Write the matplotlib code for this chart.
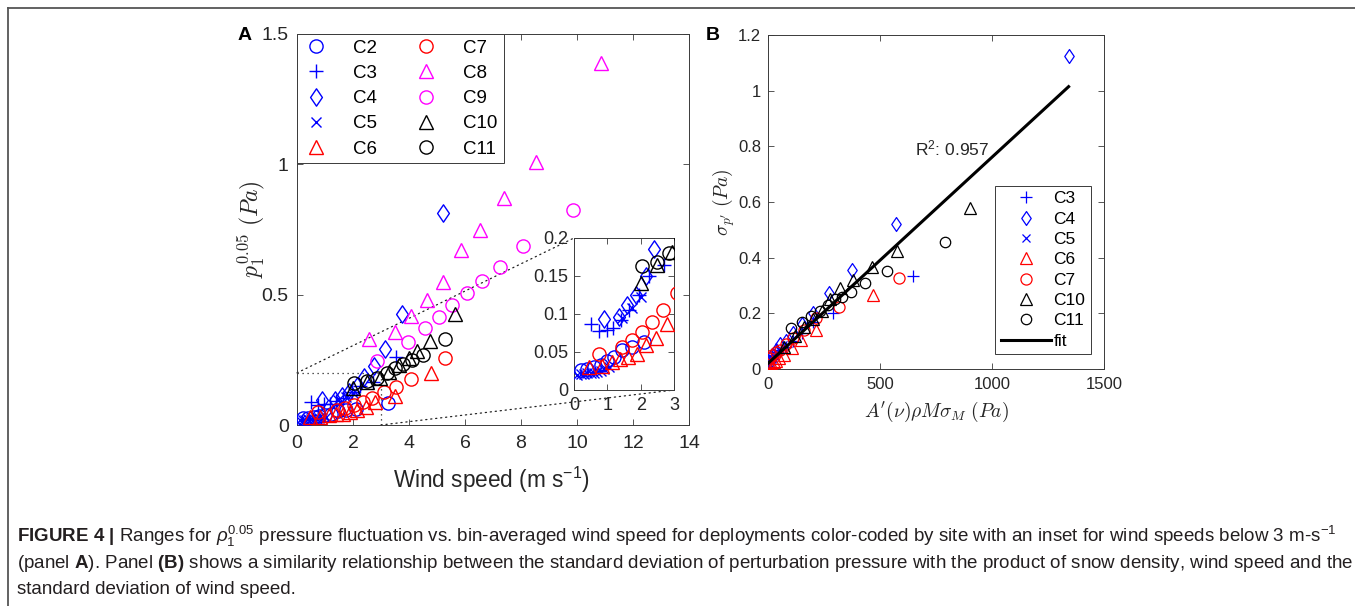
import numpy as np
import matplotlib
matplotlib.use('Agg')
import matplotlib.pyplot as plt
from matplotlib import font_manager
from matplotlib.patches import ConnectionPatch
from matplotlib.lines import Line2D
from matplotlib.path import Path
from matplotlib.ticker import FuncFormatter

# ---------------- Panel A data: wind speed (m/s) vs p1^0.05 (Pa) ----------------
c2_ws = [0.2, 0.4, 0.6, 0.8, 1.0, 1.2, 1.45, 1.75, 2.1, 3.25]
c2_p = [0.026, 0.027, 0.030, 0.033, 0.038, 0.044, 0.052, 0.056, 0.063, 0.084]
c3_ws = [0.5, 0.75, 0.98, 1.18, 1.4, 1.65, 1.95, 2.25, 2.7, 3.55]
c3_p = [0.087, 0.078, 0.079, 0.082, 0.092, 0.105, 0.125, 0.150, 0.165, 0.260]
c4_ws = [0.9, 1.35, 1.6, 1.85, 2.15, 2.4, 2.75, 3.13, 3.75, 5.23]
c4_p = [0.094, 0.096, 0.112, 0.125, 0.150, 0.185, 0.225, 0.290, 0.425, 0.813]
c5_ws = [0.1, 0.2, 0.3, 0.4, 0.5, 0.6, 0.7, 0.8, 0.9, 1.05, 1.45, 1.75, 2.0]
c5_p = [0.020, 0.021, 0.021, 0.022, 0.022, 0.023, 0.024, 0.025, 0.027, 0.030, 0.095, 0.108, 0.123]
c6_ws = [0.45, 0.83, 1.13, 1.38, 1.63, 1.88, 2.16, 2.47, 2.8, 3.5, 4.8]
c6_p = [0.030, 0.032, 0.037, 0.041, 0.043, 0.048, 0.059, 0.068, 0.087, 0.113, 0.198]
c7_ws = [0.74, 1.43, 1.73, 2.05, 2.35, 2.67, 3.1, 3.55, 4.06, 5.27]
c7_p = [0.048, 0.057, 0.066, 0.076, 0.090, 0.105, 0.127, 0.146, 0.176, 0.257]
c8_ws = [2.56, 3.49, 4.07, 4.65, 5.23, 5.86, 6.55, 7.39, 8.52, 10.87]
c8_p = [0.330, 0.356, 0.420, 0.480, 0.550, 0.670, 0.750, 0.870, 1.010, 1.390]
c9_ws = [2.85, 3.98, 4.56, 5.06, 5.55, 6.06, 6.61, 7.24, 8.07, 9.87]
c9_p = [0.245, 0.317, 0.374, 0.416, 0.461, 0.506, 0.554, 0.608, 0.687, 0.823]
c10_ws = [2.0, 2.5, 2.95, 3.3, 3.65, 4.0, 4.3, 4.75, 5.65]
c10_p = [0.141, 0.165, 0.181, 0.205, 0.232, 0.258, 0.283, 0.324, 0.425]
c11_ws = [2.05, 2.5, 2.85, 3.2, 3.5, 3.8, 4.1, 4.5, 5.27]
c11_p = [0.163, 0.168, 0.180, 0.200, 0.218, 0.235, 0.250, 0.270, 0.330]

# ---------------- Panel B data: A'(nu) rho M sigma_M (Pa) vs sigma_p' (Pa) ----------------
b3_x = [5, 12, 20, 30, 45, 60, 80, 110, 150, 200, 290, 647]
b3_y = [0.020, 0.030, 0.040, 0.050, 0.060, 0.070, 0.080, 0.100, 0.130, 0.170, 0.200, 0.334]
b4_x = [20, 35, 55, 80, 110, 150, 200, 272, 376, 570, 1342]
b4_y = [0.050, 0.070, 0.090, 0.100, 0.130, 0.160, 0.200, 0.274, 0.356, 0.520, 1.124]
b5_x = [2, 5, 8, 12, 16, 20, 25, 30, 40, 50]
b5_y = [0.015, 0.020, 0.025, 0.030, 0.035, 0.040, 0.045, 0.050, 0.060, 0.070]
b6_x = [8, 15, 25, 35, 50, 70, 109, 149, 213, 469]
b6_y = [0.015, 0.020, 0.025, 0.030, 0.040, 0.050, 0.074, 0.104, 0.140, 0.266]
b7_x = [10, 20, 35, 55, 80, 110, 160, 216, 317, 585]
b7_y = [0.040, 0.050, 0.060, 0.070, 0.090, 0.110, 0.140, 0.182, 0.222, 0.328]
b10_x = [70, 120, 160, 200, 240, 275, 320, 380, 464, 577, 900]
b10_y = [0.080, 0.120, 0.150, 0.180, 0.210, 0.250, 0.290, 0.320, 0.368, 0.425, 0.577]
b11_x = [104, 150, 190, 230, 270, 300, 330, 372, 435, 533, 789]
b11_y = [0.146, 0.170, 0.190, 0.210, 0.230, 0.250, 0.260, 0.278, 0.308, 0.353, 0.457]
fit_slope = 7.41e-4
fit_intercept = 0.02
r2_value = 0.957

# ---------------- text ----------------
caption_lines = [
    r"$\mathbf{FIGURE\ 4\ |}$ Ranges for $\rho_1^{0.05}$ pressure fluctuation vs. bin-averaged wind speed for deployments color-coded by site with an inset for wind speeds below 3 m-s$^{-1}$",
    r"(panel $\mathbf{A}$). Panel $\mathbf{(B)}$ shows a similarity relationship between the standard deviation of perturbation pressure with the product of snow density, wind speed and the",
    r"standard deviation of wind speed.",
]

# ---------------- fonts ----------------
avail = {f.name for f in font_manager.fontManager.ttflist}
sans = 'Liberation Sans' if 'Liberation Sans' in avail else 'DejaVu Sans'
narrow = 'Liberation Sans Narrow' if 'Liberation Sans Narrow' in avail else sans
plt.rcParams['font.family'] = [sans, 'DejaVu Sans']
plt.rcParams['mathtext.fontset'] = 'custom'
plt.rcParams['mathtext.rm'] = narrow
plt.rcParams['mathtext.it'] = narrow + ':italic'
plt.rcParams['mathtext.bf'] = narrow + ':bold'

TXT = '#262626'
SP = '#3a3a3a'

W, H = 1355, 606
fig = plt.figure(figsize=(W / 100, H / 100), dpi=100)

# MATLAB-like diamond (taller than wide)
DIAM = Path([(0, 1), (0.68, 0), (0, -1), (-0.68, 0), (0, 1)],
            [Path.MOVETO, Path.LINETO, Path.LINETO, Path.LINETO, Path.CLOSEPOLY])


def px_axes(x0, y0, x1, y1):
    return [x0 / W, 1 - y1 / H, (x1 - x0) / W, (y1 - y0) / H]


def style(ax, fs, xpad, ypad):
    for s in ax.spines.values():
        s.set_color(SP)
        s.set_linewidth(0.7)
    ax.tick_params(direction='in', top=True, right=True, length=4, width=0.6,
                   colors=SP, labelcolor=TXT, labelsize=fs)
    ax.tick_params(axis='x', pad=xpad)
    ax.tick_params(axis='y', pad=ypad)
    ax.xaxis.set_major_formatter(FuncFormatter(lambda v, p: '%g' % v))
    ax.yaxis.set_major_formatter(FuncFormatter(lambda v, p: '%g' % v))


seriesA = [
    ('C2', c2_ws, c2_p, 'o', 'blue', 9.5),
    ('C3', c3_ws, c3_p, '+', 'blue', 10),
    ('C4', c4_ws, c4_p, DIAM, 'blue', 12.5),
    ('C5', c5_ws, c5_p, 'x', 'blue', 7),
    ('C6', c6_ws, c6_p, '^', 'red', 9.5),
    ('C7', c7_ws, c7_p, 'o', 'red', 9.5),
    ('C8', c8_ws, c8_p, '^', 'magenta', 9.5),
    ('C9', c9_ws, c9_p, 'o', 'magenta', 9.5),
    ('C10', c10_ws, c10_p, '^', 'black', 9.5),
    ('C11', c11_ws, c11_p, 'o', 'black', 9.5),
]

axA = fig.add_axes(px_axes(297, 34, 689, 425))
handles = []
for name, xs, ys, mk, col, ms in seriesA:
    h, = axA.plot(xs, ys, linestyle='none', marker=mk, ms=ms, mfc='none',
                  mec=col, mew=1.0, label=name, zorder=3)
    handles.append(h)
axA.set_xlim(0, 14)
axA.set_ylim(0, 1.5)
axA.set_xticks(np.arange(0, 15, 2))
axA.set_yticks([0, 0.5, 1, 1.5])
style(axA, 14, 7, 6)
axA.set_xlabel(r'Wind speed (m s$^{\mathregular{-1}}$)', fontsize=16.3, color=TXT)
axA.xaxis.set_label_coords(0.497, -0.102)
axA.set_ylabel(r'$p_1^{0.05}\ (Pa)$', fontsize=17, color=TXT, math_fontfamily='cm')
axA.yaxis.set_label_coords(-0.076, 0.5)

legA = axA.legend(handles=handles, ncol=2, loc='upper left', bbox_to_anchor=(0, 1),
                  borderaxespad=0, frameon=True, fancybox=False, framealpha=1,
                  edgecolor=SP, fontsize=13.5, handlelength=1.4, handletextpad=1.3,
                  columnspacing=1.9, labelspacing=0.43, borderpad=0.3)
legA.get_frame().set_linewidth(0.7)
for t in legA.get_texts():
    t.set_color('black')

# inset
ins_xlim = (0, 3)
ins_ylim = (0, 0.2)
axI = fig.add_axes(px_axes(574, 238, 674, 390))
axI.set_zorder(5)
for name, xs, ys, mk, col, ms in seriesA:
    axI.plot(xs, ys, linestyle='none', marker=mk, ms=ms, mfc='none',
             mec=col, mew=1.0, zorder=3)
axI.set_xlim(*ins_xlim)
axI.set_ylim(*ins_ylim)
axI.set_xticks([0, 1, 2, 3])
axI.set_yticks([0, 0.05, 0.1, 0.15, 0.2])
style(axI, 13, 5, 4)

# zoom indicator (dotted)
dot = dict(color='#222222', lw=0.9, linestyle=(0, (1, 3)))
axA.plot([ins_xlim[0], ins_xlim[1]], [ins_ylim[1], ins_ylim[1]], zorder=2, **dot)
axA.plot([ins_xlim[1], ins_xlim[1]], [ins_ylim[0], ins_ylim[1]], zorder=2, **dot)
for (xa, ya), (xb, yb) in [((ins_xlim[0], ins_ylim[1]), (0, 1)), ((ins_xlim[1], ins_ylim[0]), (1, 0))]:
    cp = ConnectionPatch(xyA=(xa, ya), coordsA=axA.transData, xyB=(xb, yb),
                         coordsB=axI.transAxes, zorder=2, **dot)
    axA.add_artist(cp)

# ---------------- Panel B ----------------
seriesB = [
    ('C3', b3_x, b3_y, '+', 'blue', 8),
    ('C4', b4_x, b4_y, DIAM, 'blue', 10),
    ('C5', b5_x, b5_y, 'x', 'blue', 6),
    ('C6', b6_x, b6_y, '^', 'red', 8),
    ('C7', b7_x, b7_y, 'o', 'red', 8),
    ('C10', b10_x, b10_y, '^', 'black', 8),
    ('C11', b11_x, b11_y, 'o', 'black', 7.5),
]
axB = fig.add_axes(px_axes(768, 35, 1104, 369))
hB = []
for name, xs, ys, mk, col, ms in seriesB:
    h, = axB.plot(xs, ys, linestyle='none', marker=mk, ms=ms, mfc='none',
                  mec=col, mew=0.9, label=name, zorder=3)
    hB.append(h)
all_bx = np.concatenate([b3_x, b4_x, b5_x, b6_x, b7_x, b10_x, b11_x])
fx = np.linspace(0, all_bx.max(), 50)
hf, = axB.plot(fx, fit_slope * fx + fit_intercept, color='black', lw=2.2, label='fit', zorder=4)
hB.append(hf)
axB.set_xlim(0, 1500)
axB.set_ylim(0, 1.2)
axB.set_xticks([0, 500, 1000, 1500])
axB.set_yticks(np.round(np.arange(0, 1.21, 0.2), 1))
style(axB, 12, 6, 5)
axB.text(656, 0.794, 'R$^{\\mathregular{2}}$: %.3f' % r2_value, fontsize=12.5, color=TXT,
         ha='left', va='center')
axB.set_xlabel(r"$A'(\nu)\rho M\sigma_M\ (Pa)$", fontsize=14, color=TXT, math_fontfamily='cm')
axB.xaxis.set_label_coords(0.5, -0.093)
axB.set_ylabel(r"$\sigma_{p'}\ (Pa)$", fontsize=14, color=TXT, math_fontfamily='cm')
axB.yaxis.set_label_coords(-0.093, 0.5)
legB = axB.legend(handles=hB, loc='lower right', bbox_to_anchor=(0.96, 0.045),
                  borderaxespad=0, frameon=True, fancybox=False, framealpha=1,
                  edgecolor=SP, fontsize=12.5, handlelength=2.9, handletextpad=0.15,
                  labelspacing=0.3, borderpad=0.3)
legB.get_frame().set_linewidth(0.7)

# panel letters
fig.text(238 / W, 1 - 35 / H, 'A', fontsize=14, fontweight='bold', ha='left', va='center')
fig.text(706 / W, 1 - 35 / H, 'B', fontsize=14, fontweight='bold', ha='left', va='center')

# border lines
fig.add_artist(Line2D([8 / W, 1], [1 - 8 / H, 1 - 8 / H], transform=fig.transFigure,
                      color='#555555', lw=1.3))
fig.add_artist(Line2D([8 / W, 8 / W], [0, 1 - 8 / H], transform=fig.transFigure,
                      color='#555555', lw=1.3))

# caption
baselines = [542, 568, 594]
cap_texts = []
for line, yb in zip(caption_lines, baselines):
    t = fig.text(17 / W, 1 - yb / H, line, fontsize=13, family=[narrow, 'DejaVu Sans'],
                 color='#231f20', ha='left', va='baseline', math_fontfamily='custom')
    cap_texts.append(t)
renderer = fig.canvas.get_renderer()
w0 = cap_texts[0].get_window_extent(renderer).width
scale = (1330 - 17) / w0
for t in cap_texts:
    t.set_fontsize(13 * scale)

fig.savefig('out.png', dpi=100)
